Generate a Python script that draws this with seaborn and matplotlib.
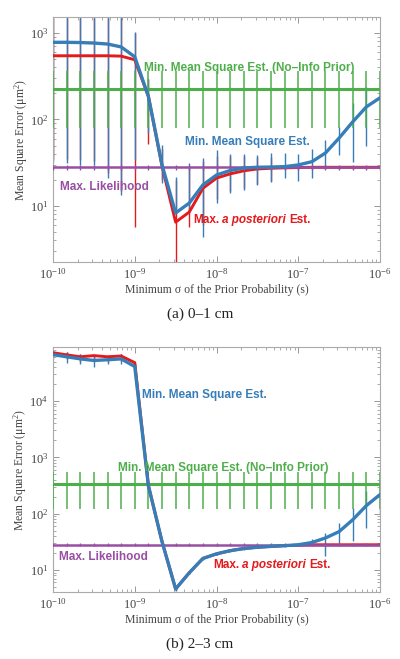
import matplotlib
matplotlib.use("Agg")
import matplotlib.pyplot as plt
import seaborn as sns

sns.set_style("ticks")
plt.rcParams["font.family"] = ["Liberation Serif", "DejaVu Serif"]
plt.rcParams["mathtext.fontset"] = "custom"
plt.rcParams["mathtext.rm"] = "Liberation Serif"
plt.rcParams["mathtext.it"] = "Liberation Serif:italic"
plt.rcParams["mathtext.bf"] = "Liberation Serif:bold"

red, blue, green, purple = sns.color_palette("Set1")[:4]

# minimum sigma of the prior (s), 6 points per decade
sigma = [1.0e-10, 1.468e-10, 2.154e-10, 3.162e-10, 4.642e-10, 6.813e-10,
         1.0e-9, 1.468e-9, 2.154e-9, 3.162e-9, 4.642e-9, 6.813e-9,
         1.0e-8, 1.468e-8, 2.154e-8, 3.162e-8, 4.642e-8, 6.813e-8,
         1.0e-7, 1.468e-7, 2.154e-7, 3.162e-7, 4.642e-7, 6.813e-7,
         1.0e-6]
decades = [1e-10, 1e-9, 1e-8, 1e-7, 1e-6]

# (a) 0-1 cm
mmse_a = [780, 780, 775, 765, 745, 690, 530, 185, 30, 8.3, 10.8, 17.5, 22.8,
          25.7, 27.5, 28, 28.2, 28.5, 29.8, 32.5, 41, 61, 94, 140, 178]
mmse_a_lo = [32, 31, 30, 30, 21, 13.4, 34, 70, 18.5, 8.3, 9, 4.4, 10.8,
             14, 15.3, 17.5, 19, 21, 19.5, 21, 28, 39, 32, 49, 90]
mmse_a_hi = [2000, 2000, 2000, 2000, 2000, 2000, 1030, 294, 51, 21.6, 31.6, 36, 44,
             40, 40, 39, 41, 41, 40, 45, 58, 81, 155, 237, 280]
map_a = [545, 545, 545, 545, 545, 540, 490, 185, 29, 6.5, 8.5, 16, 21,
         23.5, 25.5, 26.8, 27.3, 27.6, 27.8, 28, 28, 28, 28, 28, 28]
map_a_lo = [35, 35, 34, 33, 24, 15, 5.7, 52, 20, 1.0, 5.7, 6, 12,
            15, 16, 18, 19.5, 27, 27, 27, 27, 27, 27, 27, 27]
map_a_hi = [1500, 1500, 1500, 1500, 1500, 1500, 1000, 290, 45, 20, 28, 33, 38,
            38, 38, 37, 37, 29, 29, 29, 29, 29, 29, 29, 29]
noinfo_a = [225] * 25
noinfo_a_lo = [80] * 25
noinfo_a_hi = [364] * 25
ml_a = [28] * 25
ml_a_lo = [26.2] * 25
ml_a_hi = [29.8] * 25

# (b) 2-3 cm
mmse_b = [66600, 61000, 56000, 52500, 54000, 56000, 41000, 315, 32, 4.6, 8.9, 16, 19.3,
          22, 24, 25.3, 26.2, 27, 28, 30.7, 37, 48, 78, 139, 218]
mmse_b_lo = [55000, 48000, 46000, 40600, 45000, 46000, 36000, 300, 30, 4.3, 8.4, 15, 18.5,
             21, 23, 24.3, 25.2, 26, 26.5, 29, 18, 30, 33, 56, 100]
mmse_b_hi = [78000, 75000, 68000, 65600, 65000, 68000, 47000, 330, 34, 4.9, 9.4, 17, 20.1,
             23, 25, 26.3, 27.2, 28, 29.5, 35.5, 46, 69, 128, 257, 350]
map_b = [72000, 66000, 61000, 64000, 61000, 63000, 48000, 315, 32, 4.6, 8.9, 16, 19.3,
         22, 24, 25.3, 26.2, 27, 27.5, 28, 28, 28, 28, 28, 28]
map_b_lo = [60000, 55000, 50000, 52000, 50000, 52000, 40000, 305, 31, 4.4, 8.6, 15.5, 18.8,
            21.5, 23.5, 24.8, 25.7, 26.5, 27, 27.5, 27.5, 27.5, 27.5, 27.5, 27.5]
map_b_hi = [77000, 74000, 67000, 65000, 64000, 67000, 46000, 325, 33, 4.8, 9.2, 16.5, 19.8,
            22.5, 24.5, 25.8, 26.7, 27.5, 28, 28.5, 28.5, 28.5, 28.5, 28.5, 28.5]
noinfo_b = [330] * 25
noinfo_b_lo = [123] * 25
noinfo_b_hi = [540] * 25
ml_b = [28] * 25
ml_b_lo = [26.5] * 25
ml_b_hi = [29.5] * 25

panels = [
    dict(mmse=(mmse_a, mmse_a_lo, mmse_a_hi), map=(map_a, map_a_lo, map_a_hi),
         noinfo=(noinfo_a, noinfo_a_lo, noinfo_a_hi), ml=(ml_a, ml_a_lo, ml_a_hi),
         ylim=(2.25, 1530), yticks=[10, 100, 1000], caption="(a) 0\u20131 cm",
         pos=[53 / 400, 1 - 262 / 659, 327 / 400, 245 / 659],
         labels={"noinfo": (0.278, 0.792), "mmse": (0.404, 0.490),
                 "ml": (0.021, 0.306), "map": (0.428, 0.171)},
         cap_y=1 - 314 / 659),
    dict(mmse=(mmse_b, mmse_b_lo, mmse_b_hi), map=(map_b, map_b_lo, map_b_hi),
         noinfo=(noinfo_b, noinfo_b_lo, noinfo_b_hi), ml=(ml_b, ml_b_lo, ml_b_hi),
         ylim=(4.06, 91000), yticks=[10, 100, 1000, 10000], caption="(b) 2\u20133 cm",
         pos=[53 / 400, 1 - 592 / 659, 327 / 400, 245 / 659],
         labels={"noinfo": (0.199, 0.506), "mmse": (0.272, 0.804),
                 "ml": (0.018, 0.143), "map": (0.489, 0.110)},
         cap_y=1 - 644 / 659),
]

fig = plt.figure(figsize=(4, 6.59), dpi=100)
label_kw = dict(fontfamily="Liberation Sans", fontweight="bold", fontsize=8.5, va="center")

for p in panels:
    ax = fig.add_axes(p["pos"])
    ax.set_xscale("log")
    ax.set_yscale("log")

    y, lo, hi = p["map"]
    ax.vlines(sigma, lo, hi, colors=[red], lw=1.0, zorder=1)
    y, lo, hi = p["mmse"]
    ax.vlines(sigma, lo, hi, colors=[blue], lw=1.0, zorder=2)
    y, lo, hi = p["noinfo"]
    ax.vlines(sigma, lo, hi, colors=[green], lw=1.1, zorder=3)
    sns.lineplot(x=sigma, y=y, ax=ax, color=green, lw=2.2, zorder=4)
    y, lo, hi = p["map"]
    sns.lineplot(x=sigma, y=y, ax=ax, color=red, lw=2.1, zorder=5)
    y, lo, hi = p["ml"]
    ax.vlines(sigma, lo, hi, colors=[purple], lw=1.0, zorder=6)
    sns.lineplot(x=sigma, y=y, ax=ax, color=purple, lw=1.8, zorder=6)
    y, lo, hi = p["mmse"]
    sns.lineplot(x=sigma, y=y, ax=ax, color=blue, lw=2.4, zorder=7)

    ax.set_xlim(1e-10, 1e-6)
    ax.set_ylim(*p["ylim"])
    ax.set_xticks(decades)
    ax.set_yticks(p["yticks"])
    ax.set_xlim(1e-10, 1e-6)
    ax.set_ylim(*p["ylim"])
    ax.set_xlabel("Minimum \u03c3 of the Prior Probability (s)", fontsize=8.5,
                  color="#444444", labelpad=2)
    ax.set_ylabel("Mean Square Error (\u03bcm$^2$)", fontsize=8.5, color="#444444", labelpad=0)
    ax.tick_params(which="both", direction="in", top=True, right=True,
                   colors="#888888", labelcolor="#444444", labelsize=9)
    ax.tick_params(which="major", length=4, width=0.6)
    ax.tick_params(which="minor", length=2, width=0.5)
    for s in ax.spines.values():
        s.set_color("#aaaaaa")
        s.set_linewidth(0.8)

    lx, ly = p["labels"]["noinfo"]
    ax.text(lx, ly, "Min. Mean Square Est. (No\u2013Info Prior)", color=green,
            transform=ax.transAxes, zorder=8, **label_kw)
    lx, ly = p["labels"]["mmse"]
    ax.text(lx, ly, "Min. Mean Square Est.", color=blue, transform=ax.transAxes,
            zorder=8, **label_kw)
    lx, ly = p["labels"]["ml"]
    ax.text(lx, ly, "Max. Likelihood", color=purple, transform=ax.transAxes,
            zorder=8, **label_kw)
    lx, ly = p["labels"]["map"]
    t1 = ax.text(lx, ly, "Max.", color=red, transform=ax.transAxes, zorder=8, **label_kw)
    t2 = ax.annotate("a posteriori", xy=(1, 0), xycoords=t1, xytext=(2.4, 0),
                     textcoords="offset points", color=red, fontfamily="Liberation Sans",
                     fontweight="bold", fontstyle="italic", fontsize=8.5,
                     va="bottom", zorder=8)
    ax.annotate("Est.", xy=(1, 0), xycoords=t2, xytext=(2.4, 0),
                textcoords="offset points", color=red, fontfamily="Liberation Sans",
                fontweight="bold", fontsize=8.5, va="bottom", zorder=8)

    fig.text(0.5, p["cap_y"], p["caption"], ha="center", va="center", fontsize=11,
             color="#222222")

fig.savefig("out.png", dpi=100)
